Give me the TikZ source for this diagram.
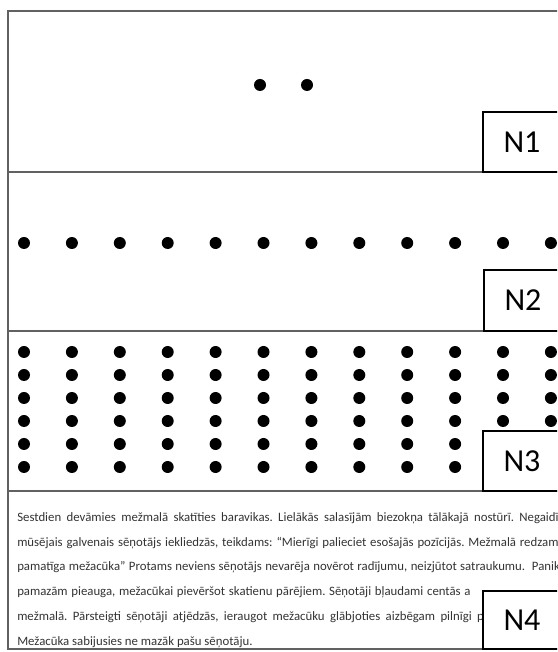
\documentclass[tikz,border=0pt]{standalone}
\usepackage{fontspec}
\setmainfont{Carlito}
\frenchspacing
\begin{document}
\begin{tikzpicture}[x=0.75pt,y=0.75pt,
  frameline/.style={draw=black!62,line width=1.5pt},
  dot/.style={circle,fill=black,inner sep=0pt,minimum size=9pt},
  lbl/.style={draw=black,fill=white,line width=1.1pt,inner sep=0pt,
    minimum width=58.5pt,font=\fontsize{24}{28}\selectfont},
  para/.style={anchor=base west,inner sep=0pt,text=black!80,
    font=\fontsize{9.6}{11}\selectfont}]
\useasboundingbox (0,0) rectangle (557,652);
\clip (0,0) rectangle (557,652);
% outer frame and separators
\draw[frameline] (566,641) -- (8,641) -- (8,3) -- (566,3);
\draw[frameline] (8,480) -- (566,480);
\draw[frameline] (8,321) -- (566,321);
\draw[frameline] (8,161) -- (566,161);
% N1 dots
\node[dot] (a1) at (260,567) {};
\node[dot] (a2) at (307,567) {};
% N2 row
\foreach \i in {0,...,11} {
  \node[dot] (b\i) at ({24+47.9*\i},409) {};
}
% N3 grid
\foreach \j in {0,...,5} {
  \foreach \i in {0,...,11} {
    \node[dot] (c\j-\i) at ({24+47.9*\i},{300-23*\j}) {};
  }
}
% paragraph
\node[para] (t1) at (17,130) {\makebox[406pt][s]{Sestdien devāmies mežmalā skatīties baravikas. Lielākās salasījām biezokņa tālākajā nostūrī. Negaidī}};
\node[para] (t2) at (17,105.5) {\makebox[406pt][s]{mūsējais galvenais sēņotājs iekliedzās, teikdams: “Mierīgi palieciet esošajās pozīcijās. Mežmalā redzam}};
\node[para] (t3) at (17,81) {\makebox[407pt][s]{pamatīga mežacūka” Protams neviens sēņotājs nevarēja novērot radījumu, neizjūtot satraukumu. \ Panik}};
\node[para] (t4) at (17,56) {\makebox[340pt][s]{pamazām pieauga, mežacūkai pievēršot skatienu pārējiem. Sēņotāji bļaudami centās a}};
\node[para] (t5) at (17,31.5) {\makebox[350pt][s]{mežmalā. Pārsteigti sēņotāji atjēdzās, ieraugot mežacūku glābjoties aizbēgam pilnīgi p}};
\node[para] (t6) at (17,7) {Mežacūka sabijusies ne mazāk pašu sēņotāju.};
% labels
\node[lbl,minimum height=45pt] (n1) at (522,510) {N1};
\node[lbl,minimum height=45.75pt] (n2) at (523,351.5) {N2};
\node[lbl,minimum height=45pt] (n3) at (522,191) {N3};
\node[lbl,minimum height=43.5pt] (n4) at (522,32) {N4};
\end{tikzpicture}
\end{document}
